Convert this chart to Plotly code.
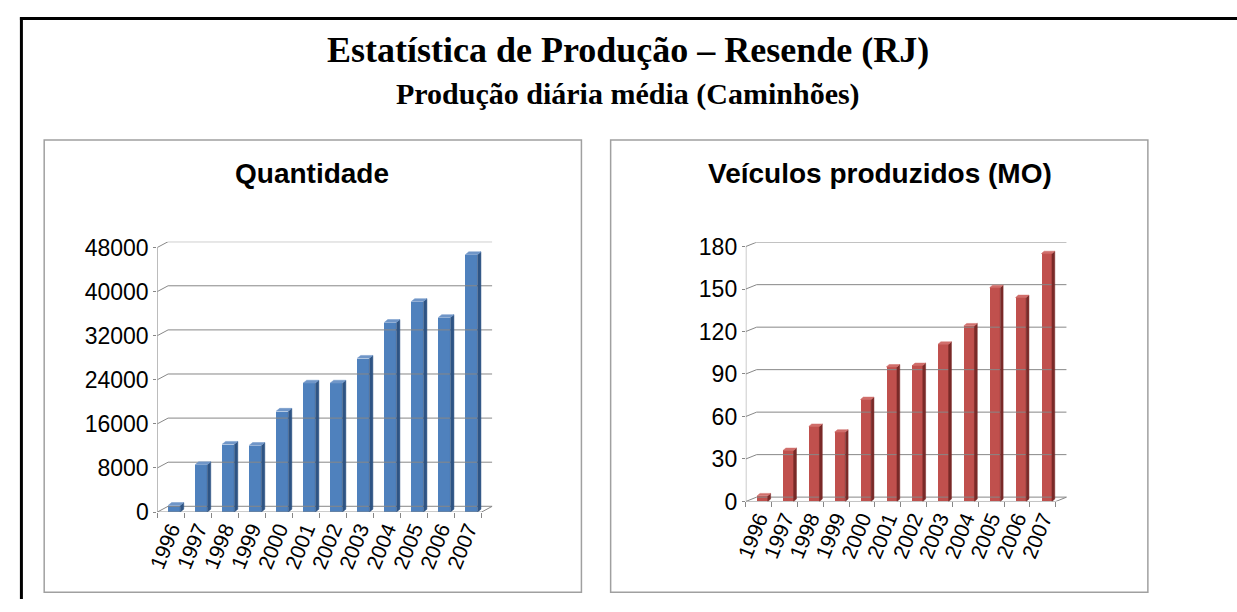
import plotly.graph_objects as go

years = ["1996", "1997", "1998", "1999", "2000", "2001", "2002", "2003", "2004", "2005", "2006", "2007"]
quantidade = [1200, 8600, 12300, 12100, 18300, 23400, 23400, 27900, 34400, 38200, 35300, 46700]
veiculos_mo = [4, 36, 53, 49, 72, 95, 96, 111, 124, 151, 144, 175]
q_ticks = [0, 8000, 16000, 24000, 32000, 40000, 48000]
v_ticks = [0, 30, 60, 90, 120, 150, 180]

main_title = "Estatística de Produção – Resende (RJ)"
sub_title = "Produção diária média (Caminhões)"
left_title = "Quantidade"
right_title = "Veículos produzidos (MO)"

W, H = 1237, 612
GRID = "#878787"

fig = go.Figure()


def px_x(p):
    return p / W


def px_y(p):
    return 1 - p / H


def add_panel(xref, yref, vals, ticks, front, side, top, wall_dx, wall_dy,
              bar_off, bar_w, bar_dx, bar_dy):
    n = len(vals)
    xs = list(range(n))
    left = -0.5
    right = n - 0.5
    ymax = ticks[-1]
    gx, gy = [], []
    for t in ticks:
        gx += [left, left + wall_dx, right + wall_dx, None]
        gy += [t, t + wall_dy, t + wall_dy, None]
    gx += [left, right, right + wall_dx, None]
    gy += [0, 0, wall_dy, None]
    gx += [left, left, None]
    gy += [0, ymax, None]
    fig.add_trace(go.Scatter(x=gx, y=gy, mode="lines", line=dict(color=GRID, width=1),
                             hoverinfo="skip", showlegend=False, xaxis=xref, yaxis=yref))
    sx, sy, tx, ty = [], [], [], []
    for c, v in zip(xs, vals):
        a = c + bar_off + bar_w
        sx += [a, a + bar_dx, a + bar_dx, a, a, None]
        sy += [0, bar_dy, v + bar_dy, v, 0, None]
        b = c + bar_off
        tx += [b, a, a + bar_dx, b + bar_dx, b, None]
        ty += [v, v, v + bar_dy, v + bar_dy, v, None]
    fig.add_trace(go.Scatter(x=sx, y=sy, mode="lines", fill="toself", fillcolor=side,
                             line=dict(color=side, width=0.5), hoverinfo="skip",
                             showlegend=False, xaxis=xref, yaxis=yref))
    fig.add_trace(go.Scatter(x=tx, y=ty, mode="lines", fill="toself", fillcolor=top,
                             line=dict(color=top, width=0.5), hoverinfo="skip",
                             showlegend=False, xaxis=xref, yaxis=yref))
    fig.add_trace(go.Bar(x=xs, y=vals, width=bar_w, offset=bar_off,
                         marker=dict(color=front, line=dict(width=0)),
                         showlegend=False, xaxis=xref, yaxis=yref))


L_dx, L_dy = 0.40, 1051
R_dx, R_dy = 0.42, 3.07

add_panel("x", "y", quantidade, q_ticks, "#4F81BD", "#2E5484", "#7096C8",
          L_dx, L_dy, -0.1, 0.45, 0.13, 520)
add_panel("x2", "y2", veiculos_mo, v_ticks, "#C0504D", "#7A2A28", "#D06E6B",
          R_dx, R_dy, -0.06, 0.41, 0.11, 1.7)

sans = "Arial, Liberation Sans, sans-serif"
serif = "Liberation Serif, Times New Roman, serif"
ytickfont = dict(family=sans, size=23, color="#000000")
xtickfont = dict(family=sans, size=21, color="#000000")
bounds = [i - 0.5 for i in range(len(years) + 1)]

common_x = dict(tickmode="array", tickvals=list(range(len(years))), ticktext=years,
                tickangle=-68, tickfont=xtickfont, ticks="", showgrid=False,
                zeroline=False, showline=False, fixedrange=True,
                minor=dict(tickmode="array", tickvals=bounds, ticks="outside",
                           ticklen=5, tickcolor=GRID, tickwidth=1, showgrid=False))
common_y = dict(tickmode="array", ticks="outside", ticklen=3, tickcolor=GRID,
                tickfont=ytickfont, showgrid=False, zeroline=False, showline=False,
                fixedrange=True)

fig.update_layout(
    width=W, height=H,
    margin=dict(l=0, r=0, t=0, b=0),
    paper_bgcolor="white", plot_bgcolor="rgba(0,0,0,0)",
    bargap=0,
    hovermode=False,
    xaxis=dict(domain=[px_x(146.7), px_x(485)], range=[-0.5, 11.5 + L_dx], **common_x),
    yaxis=dict(domain=[px_y(522), px_y(242)], range=[0, q_ticks[-1] + L_dy],
               tickvals=q_ticks, ticktext=[str(t) for t in q_ticks], **common_y),
    xaxis2=dict(domain=[px_x(741), px_x(1065)], range=[-0.5, 11.5 + R_dx],
                anchor="y2", **common_x),
    yaxis2=dict(domain=[px_y(511), px_y(242.5)], range=[0, v_ticks[-1] + R_dy],
                anchor="x2", tickvals=v_ticks, ticktext=[str(t) for t in v_ticks],
                **common_y),
)

shapes = [
    dict(type="line", xref="paper", yref="paper", x0=px_x(9.5), x1=px_x(9.5),
         y0=px_y(9.5), y1=0, line=dict(color="black", width=3)),
    dict(type="line", xref="paper", yref="paper", x0=px_x(8), x1=1,
         y0=px_y(11), y1=px_y(11), line=dict(color="black", width=3)),
]
for x0, x1 in [(32.5, 575), (604.5, 1147)]:
    shapes.append(dict(type="rect", xref="paper", yref="paper", x0=px_x(x0), x1=px_x(x1),
                       y0=px_y(605), y1=px_y(136.7), line=dict(color="#A0A0A0", width=1.5)))
fig.update_layout(shapes=shapes)

ann = [
    dict(text="<b>" + main_title + "</b>", x=px_x(622), y=px_y(43), font=dict(family=serif, size=36)),
    dict(text="<b>" + sub_title + "</b>", x=px_x(622), y=px_y(89), font=dict(family=serif, size=30)),
    dict(text="<b>" + left_title + "</b>", x=px_x(303), y=px_y(171), font=dict(family=sans, size=28)),
    dict(text="<b>" + right_title + "</b>", x=px_x(876), y=px_y(171), font=dict(family=sans, size=28)),
]
for a in ann:
    a.update(xref="paper", yref="paper", showarrow=False, xanchor="center", yanchor="middle")
    a["font"]["color"] = "black"
fig.update_layout(annotations=ann)

# remove the default page margin so the 1237x612 figure fills the window exactly
fig.write_html("out.html", config={"displayModeBar": False},
               post_script="document.body.style.margin='0';")
